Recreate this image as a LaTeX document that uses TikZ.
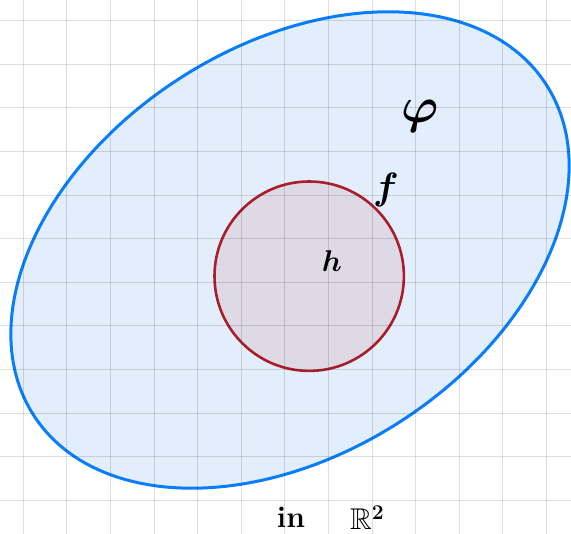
\documentclass[tikz,border=0pt]{standalone}
\usepackage{fix-cm}
\usepackage{amssymb}
\usepackage{xcolor}
\definecolor{cOuter}{HTML}{0A7EFA}
\definecolor{cOuterFill}{HTML}{E2EEFC}
\definecolor{cInner}{HTML}{AA1E2C}
\definecolor{cInnerFill}{HTML}{DDDAE6}
\definecolor{cGrid}{HTML}{000000}
\usepackage{tikz}
\tikzset{
  region-outer/.style={draw=cOuter,line width=3pt,fill=cOuterFill},
  region-inner/.style={draw=cInner,line width=2.6pt,fill=cInnerFill},
  grid-line/.style={draw=cGrid,draw opacity=0.13,line width=1.1pt},
  label-hand/.style={inner sep=0pt,font=\fontsize{30}{32}\selectfont\boldmath\bfseries},
  label-big/.style={inner sep=0pt,font=\fontsize{38}{40}\selectfont\boldmath},
  label-huge/.style={inner sep=0pt,font=\fontsize{50}{52}\selectfont\boldmath},
}

\begin{document}
\begin{tikzpicture}[x=1pt,y=-1pt]
  \useasboundingbox (0,0) rectangle (571,534);
  \fill[white] (0,0) rectangle (571,534);
  % outer region
  \draw[region-outer,rotate around={32.85:(290,250)}] (290,250)
    ellipse[x radius=305pt,y radius=204pt];
  % inner disc
  \draw[region-inner] (309.2,276.2) circle[radius=94.7pt];
  % grid paper
  \foreach \i in {0,...,12}
    \draw[grid-line] ({23.3+43.6*\i},0) -- ({23.3+43.6*\i},534);
  \foreach \j in {0,...,11}
    \draw[grid-line] (0,{20.7+43.6*\j}) -- (571,{20.7+43.6*\j});
  \node[label-huge] (phi) at (420,116) {$\varphi$};
  \node[label-big] (f) at (386,190) {$f$};
  \node[label-hand] (h) at (332,261) {$h$};
  \node[label-hand,anchor=base] (in-word) at (291,528) {in};
  \node[label-hand,anchor=base west] (space) at (350,530) {$\mathbb{R}^2$};
\end{tikzpicture}
\end{document}
